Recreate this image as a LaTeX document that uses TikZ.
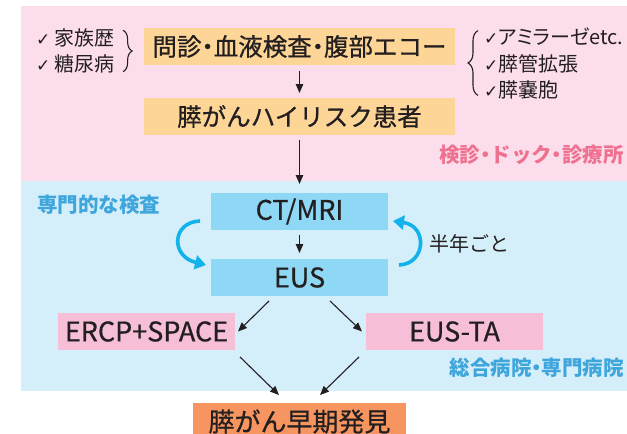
\documentclass[tikz,border=0pt]{standalone}
\usepackage{fontspec}
\setmainfont{Noto Sans CJK JP}
\newfontfamily\medfont{Noto Sans CJK JP}[UprightFeatures={FakeBold=0.7}]
\newfontfamily\symfont{DejaVu Sans}
\usetikzlibrary{positioning,arrows.meta,decorations.pathreplacing}

\definecolor{bgpink}{HTML}{FCDDEC}
\definecolor{bgblue}{HTML}{D4EEFA}
\definecolor{boxorange}{HTML}{FDD597}
\definecolor{boxblue}{HTML}{8ED8F6}
\definecolor{boxpink}{HTML}{F7BED8}
\definecolor{goalorange}{HTML}{F6955F}
\definecolor{loopblue}{HTML}{12B2EA}
\definecolor{labelblue}{HTML}{3FA6DC}
\definecolor{labelpink}{HTML}{EF7190}
\definecolor{ink}{HTML}{231F20}

\newcommand\boxfont{\medfont\fontsize{24.5pt}{28pt}\selectfont}
\newcommand\latinboxfont{\medfont\fontsize{27pt}{30pt}\selectfont}
\newcommand\goalfont{\medfont\fontsize{26pt}{30pt}\selectfont}
\newcommand\listfont{\fontsize{20pt}{26.5pt}\selectfont}
\newcommand\placefont{\fontsize{20.5pt}{24pt}\selectfont\bfseries}
\newcommand\tick{{\symfont\fontsize{17pt}{17pt}\selectfont ✓}}
\newcommand\middot{\makebox[0.5em]{・}}
\newcommand\tightkana[1]{{\addfontfeature{RawFeature=+palt}#1}}

\begin{document}
\begin{tikzpicture}[x=1pt,y=-1pt,
  stepbox/.style = {rectangle,minimum height=37pt,inner sep=0pt,outer sep=0pt,text=ink,font=\boxfont},
  latinbox/.style = {stepbox,font=\latinboxfont},
  flow/.style = {-{Triangle[length=9pt,width=7.5pt]},line width=1.1pt,draw=ink},
  repeatarrow/.style = {-{Triangle[length=11pt,width=14pt]},line width=3.6pt,draw=loopblue},
  checklist/.style = {align=left,inner sep=0pt,text=ink,font=\listfont},
  place/.style = {inner sep=0pt,font=\placefont},
  bracket/.style = {decorate,draw=ink,line width=1.1pt}]
\useasboundingbox (0,0) rectangle (627,434);
\clip (0,0) rectangle (627,434);
% zones
\fill[bgpink] (21,6) rectangle (627,181);
\fill[bgblue] (21,181) rectangle (627,391);
% steps
\node[stepbox,fill=boxorange,minimum width=311pt] (exam) at (299.5,46.5) {問診\middot 血液検査\middot 腹部エコー};
\node[stepbox,fill=boxorange,minimum width=311pt] (risk) at (299.5,116.5) {膵がんハイリスク患者};
\node[latinbox,fill=boxblue,minimum width=177pt] (ctmri) at (299.5,211.5) {CT/MRI};
\node[latinbox,fill=boxblue,minimum width=177pt] (eus) at (299.5,277.5) {EUS};
\node[latinbox,fill=boxpink,minimum width=177pt] (ercp) at (146.5,331.5) {ERCP+SPACE};
\node[latinbox,fill=boxpink,minimum width=177pt] (eusta) at (454.5,331.5) {EUS-TA};
\node[stepbox,font=\goalfont,fill=goalorange,minimum width=213pt] (goal) at (299.5,421.5) {膵がん早期発見};
% check lists
\node[checklist,anchor=west] (history) at (36,51) {\tick\ 家族歴\\\tick\ 糖尿病};
\node[checklist,anchor=west] (findings) at (484,63.5) {\tick\tightkana{アミラーゼ}etc.\\\tick 膵管拡張\\\tick 膵嚢胞};
\draw[bracket,decoration={brace,amplitude=9pt}] ([xshift=8pt,yshift=-2pt]history.north east) -- ([xshift=8pt,yshift=2pt]history.south east);
\draw[bracket,decoration={brace,amplitude=10pt}] ([xshift=-6pt,yshift=4pt]findings.south west) -- ([xshift=-6pt,yshift=-3pt]findings.north west);
% zone labels
\node[place,text=labelpink,anchor=east] (checkup) at (624,155) {検診\middot ドック\middot 診療所};
\node[place,text=labelblue,anchor=west] (special) at (37,205) {専門的な検査};
\node[place,text=labelblue,anchor=east] (hospital) at (624,368) {総合病院\middot 専門病院};
\node[checklist,anchor=west] (halfyear) at (429,244) {半年ごと};
% arrows
\draw[flow,shorten <=6pt,shorten >=5pt] (exam) -- (risk);
\draw[flow,shorten <=5pt,shorten >=9pt] (risk) -- (ctmri);
\draw[flow,shorten <=5pt,shorten >=6pt] (ctmri) -- (eus);
\draw[flow] ([shift={(58,5)}]eus.south west) -- ([xshift=3pt]ercp.east);
\draw[flow] ([shift={(-58,5)}]eus.south east) -- ([xshift=-4pt]eusta.west);
\draw[flow] ([shift={(5,7)}]ercp.south east) -- ([shift={(86,-8)}]goal.north west);
\draw[flow] ([shift={(-7,7)}]eusta.south west) -- ([shift={(-86,-8)}]goal.north east);
% every half year
\draw[repeatarrow] ([shift={(-11,-9)}]ctmri.south west) .. controls +(-28,1) and +(-36,-9) .. ([shift={(-5,6)}]eus.north west);
\draw[repeatarrow] ([shift={(11,6)}]eus.north east) .. controls +(27,-1) and +(35,5) .. ([shift={(5,-9)}]ctmri.south east);
\end{tikzpicture}
\end{document}
